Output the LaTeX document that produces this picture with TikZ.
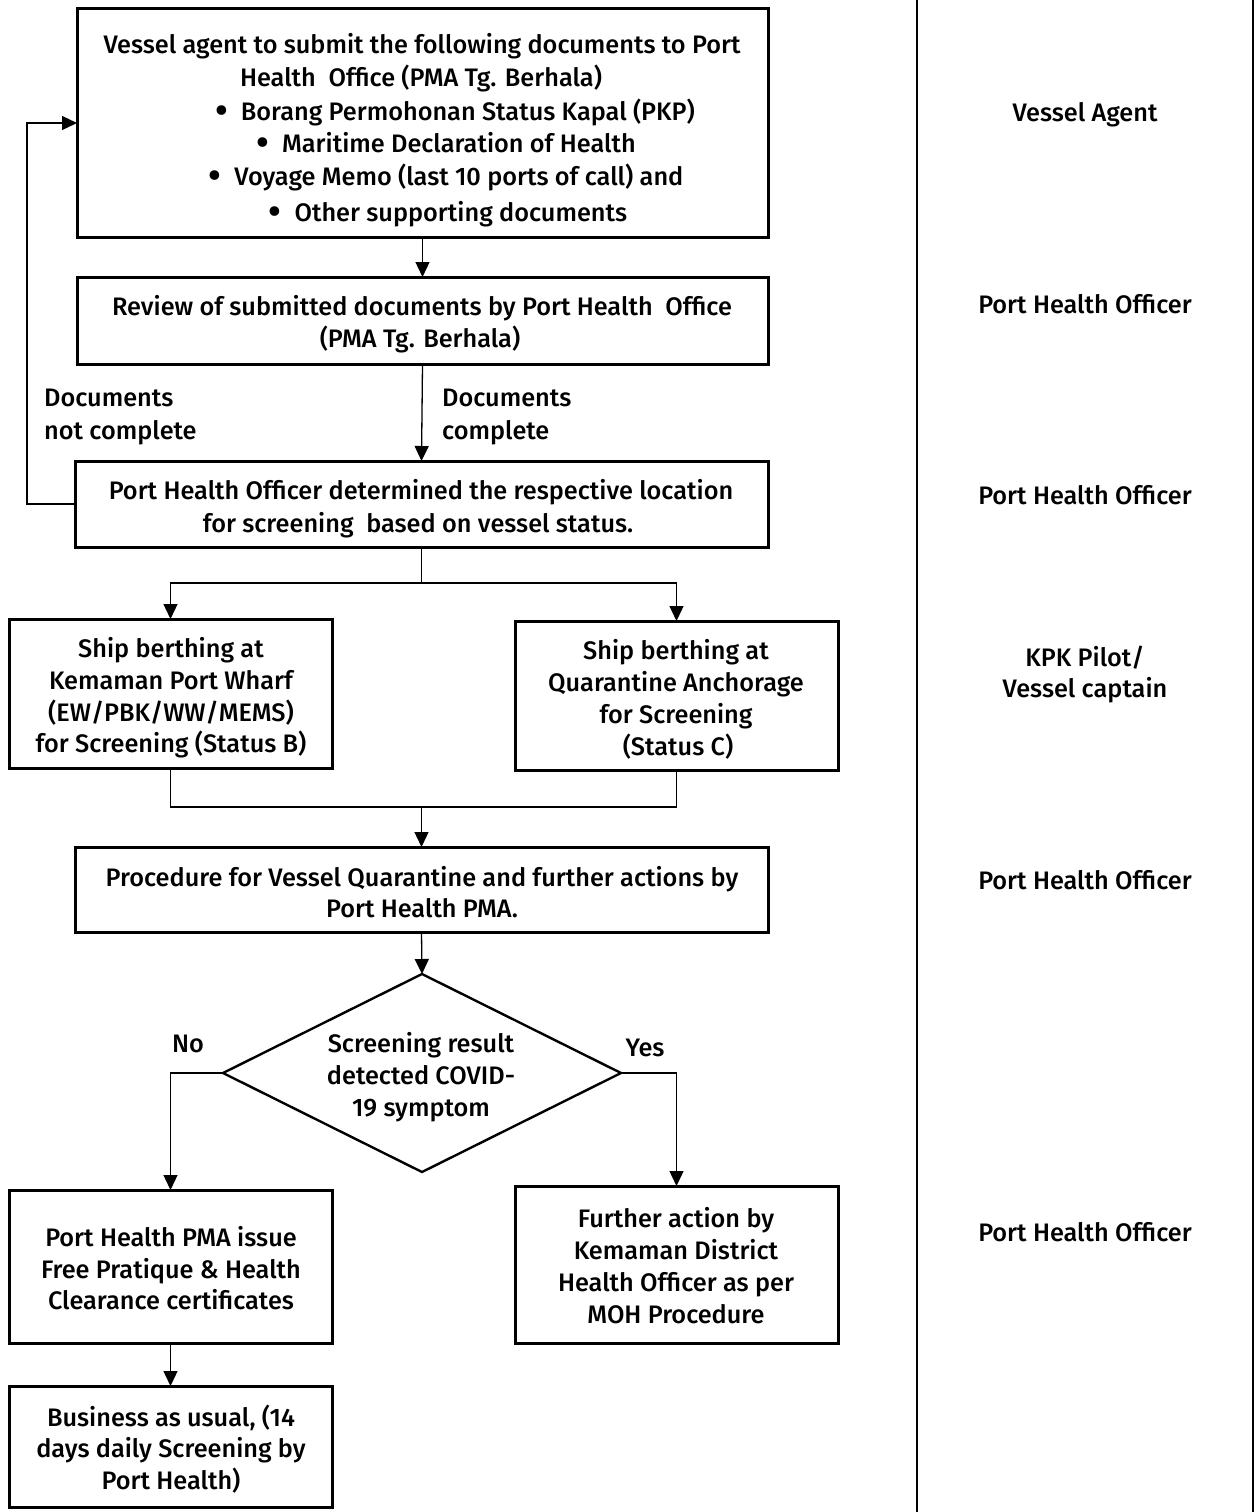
\documentclass[tikz,border=0pt]{standalone}
\usepackage{fontspec}
\setmainfont{Fira Sans}[UprightFont={* Medium}]
\usetikzlibrary{shapes.geometric,arrows.meta}
\newcommand\fsz{\fontsize{25.3}{32}\selectfont}
\newcommand\tline[4]{\node[tl] (#1) at (#2,#3+9) {#4};}
\newcommand\lline[4]{\node[tl,anchor=base west] (#1) at (#2,#3+9) {#4};}
\newcommand\bul{\raisebox{-0.15em}{\scalebox{1.5}{\textbullet}}\hspace{13pt}}
\begin{document}
\begin{tikzpicture}[x=1pt,y=-1pt,
  box/.style={draw, rectangle, line width=3pt, inner sep=0pt, outer sep=0pt},
  dia/.style={draw, diamond, line width=2.4pt, inner sep=0pt, outer sep=0pt},
  tl/.style={inner sep=0pt, anchor=base, font=\fsz},
  conn/.style={line width=1.3pt, -{Triangle[length=15pt,width=14pt]}},
  plain/.style={line width=1.3pt},
  frame/.style={line width=2.2pt}]
\useasboundingbox (0,0) rectangle (1255,1512);

% frame lines of the role column
\draw[frame] (917,0) -- (917,1512);
\draw[frame] (1253,0) -- (1253,1512);

% boxes
\node[box, minimum width=691pt, minimum height=228pt] (b1) at (422.5,123) {};
\node[box, minimum width=691pt, minimum height=87pt] (b2) at (422.5,320.5) {};
\node[box, minimum width=693pt, minimum height=86pt] (b3) at (421.5,504) {};
\node[box, minimum width=323pt, minimum height=149pt] (b4) at (170.5,693.5) {};
\node[box, minimum width=323pt, minimum height=149pt] (b5) at (676.5,695.5) {};
\node[box, minimum width=693pt, minimum height=85pt] (b6) at (421.5,889.5) {};
\node[dia, minimum width=398pt, minimum height=198pt] (d1) at (422,1073) {};
\node[box, minimum width=323pt, minimum height=153pt] (b7) at (170.5,1266.5) {};
\node[box, minimum width=323pt, minimum height=157pt] (b8) at (676.5,1264.5) {};
\node[box, minimum width=323pt, minimum height=121pt] (b9) at (170.5,1446.5) {};

% texts
\tline{t1a}{422}{44}{Vessel agent to submit the following documents to Port}
\tline{t1b}{421}{77}{Health\ \ Office (PMA Tg. Berhala)}
\tline{t1c}{455}{111}{\bul Borang Permohonan Status Kapal (PKP)}
\tline{t1d}{446}{143}{\bul Maritime Declaration of Health}
\tline{t1e}{446}{176}{\bul Voyage Memo (last 10 ports of call) and}
\tline{t1f}{448}{212}{\bul Other supporting documents}

\tline{t2a}{422}{306}{Review of submitted documents by Port Health\ \ Office}
\tline{t2b}{420}{338}{(PMA Tg. Berhala)}

\tline{t3a}{421}{490}{Port Health Officer determined the respective location}
\tline{t3b}{418}{523}{for screening\ \ based on vessel status.}

\lline{l1a}{44}{397}{Documents}
\lline{l1b}{44}{430}{not complete}
\lline{l2a}{442}{397}{Documents}
\lline{l2b}{442}{430}{complete}

\tline{t4a}{171}{648}{Ship berthing at}
\tline{t4b}{171}{680}{Kemaman Port Wharf}
\tline{t4c}{171}{712}{(EW/PBK/WW/MEMS)}
\tline{t4d}{171}{743}{for Screening (Status B)}

\tline{t5a}{676}{650}{Ship berthing at}
\tline{t5b}{676}{682}{Quarantine Anchorage}
\tline{t5c}{676}{714}{for Screening}
\tline{t5d}{678}{746}{(Status C)}

\tline{t6a}{422}{877}{Procedure for Vessel Quarantine and further actions by}
\tline{t6b}{422}{908}{Port Health PMA.}

\tline{tda}{421}{1043}{Screening result}
\tline{tdb}{421}{1075}{detected COVID-}
\tline{tdc}{421}{1107}{19 symptom}

\tline{tno}{188}{1043}{No}
\tline{tyes}{645}{1047}{Yes}

\tline{t7a}{171}{1237}{Port Health PMA issue}
\tline{t7b}{171}{1269}{Free Pratique \& Health}
\tline{t7c}{171}{1300}{Clearance certificates}

\tline{t8a}{676}{1218}{Further action by}
\tline{t8b}{676}{1250}{Kemaman District}
\tline{t8c}{676}{1282}{Health Officer as per}
\tline{t8d}{676}{1314}{MOH Procedure}

\tline{t9a}{171}{1417}{Business as usual, (14}
\tline{t9b}{171}{1448}{days daily Screening by}
\tline{t9c}{171}{1480}{Port Health)}

% role column
\tline{r1}{1085}{112}{Vessel Agent}
\tline{r2}{1085}{304}{Port Health Officer}
\tline{r3}{1085}{495}{Port Health Officer}
\tline{r4a}{1085}{657}{KPK Pilot/}
\tline{r4b}{1085}{688}{Vessel captain}
\tline{r5}{1085}{880}{Port Health Officer}
\tline{r6}{1085}{1232}{Port Health Officer}

% junction coordinates
\coordinate (lp) at (27,0);
\coordinate (split) at (421.5,583);
\coordinate (merge) at (421.5,807);

% connectors
\draw[conn] (b1.south) -- (b2.north);
\draw[conn] (b2.south) -- (b3.north);
\draw[conn] (b3.west) -- (b3.west -| lp) -- (b1.west -| lp) -- (b1.west);
\draw[plain] (b3.south) -- (split);
\draw[conn] (split) -| (b4.north);
\draw[conn] (split) -| (b5.north);
\draw[plain] (b4.south) |- (merge);
\draw[plain] (b5.south) |- (merge);
\draw[conn] (merge) -- (b6.north);
\draw[conn] (b6.south) -- (d1.north);
\draw[conn] (d1.west) -| (b7.north);
\draw[conn] (d1.east) -| (b8.north);
\draw[conn] (b7.south) -- (b9.north);
\end{tikzpicture}
\end{document}
